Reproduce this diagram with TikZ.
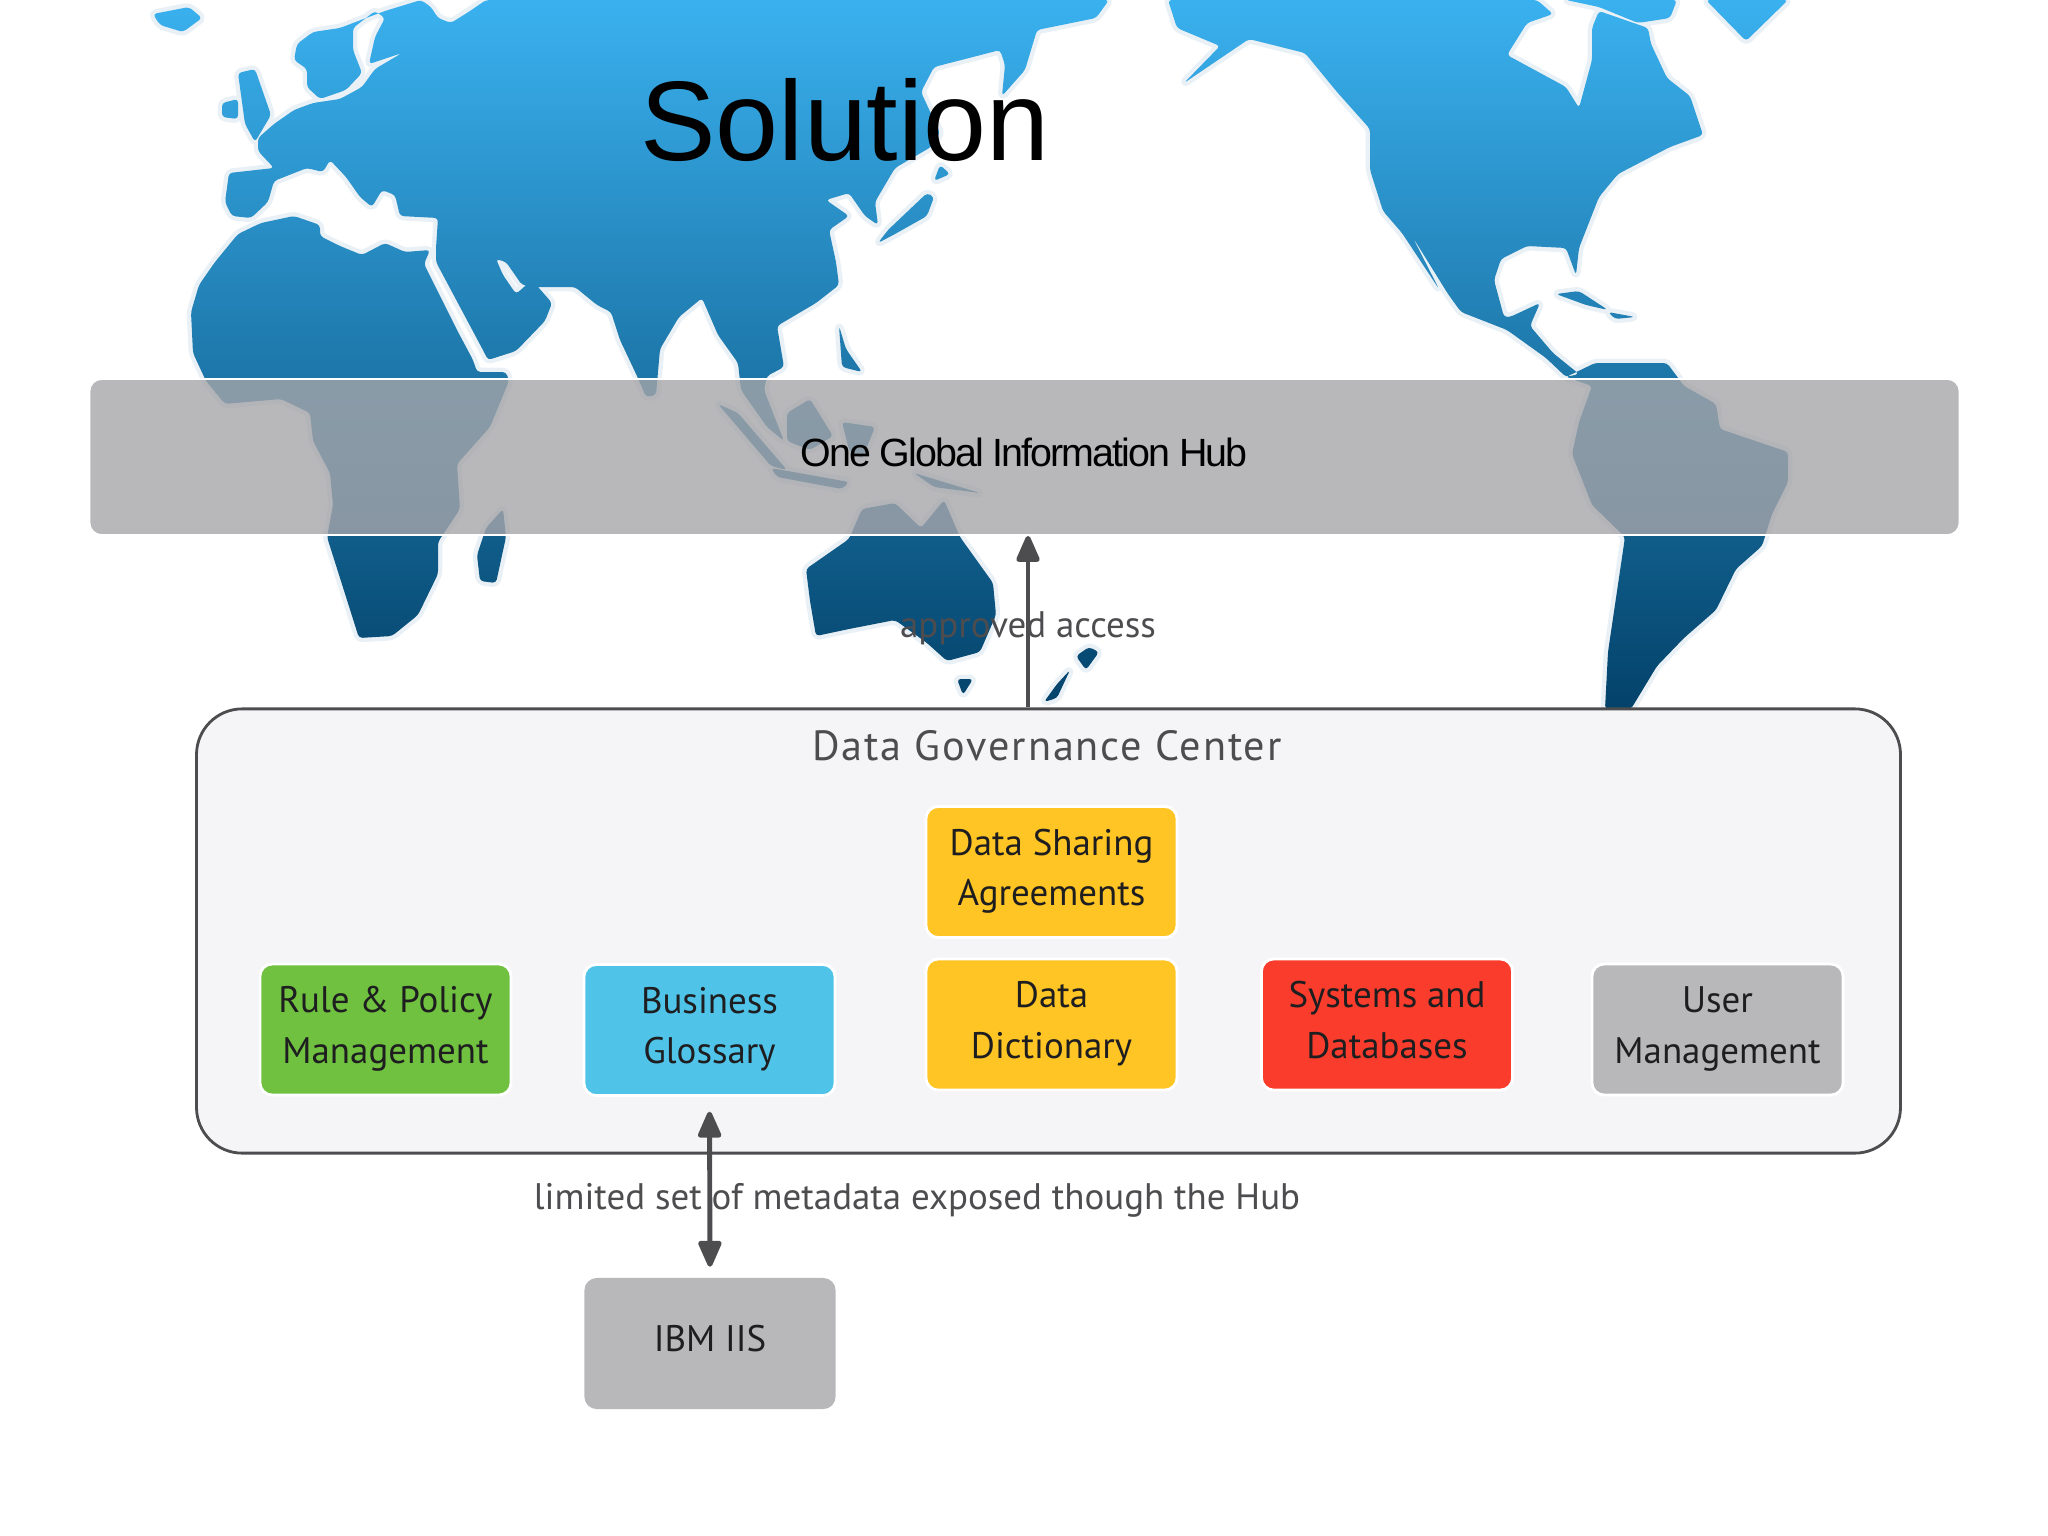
\documentclass[tikz,border=0pt]{standalone}
\usepackage{fontspec}
\setmainfont{PT Sans}
\newfontfamily\titlefont{Liberation Sans}
\newfontfamily\hubfont[LetterSpace=-5]{Liberation Sans}
\newfontfamily\centerfont[LetterSpace=4.5]{PT Sans}
\usetikzlibrary{arrows.meta,positioning}
\definecolor{mapshallow}{RGB}{58, 177, 239}
\definecolor{mapmiddle}{RGB}{34, 122, 174}
\definecolor{mapdeep}{RGB}{3, 66, 106}
\definecolor{mapglow}{RGB}{234, 241, 246}
\definecolor{hubcolor}{RGB}{166, 165, 169}
\definecolor{centercolor}{RGB}{245, 245, 248}
\definecolor{linecolor}{RGB}{77, 76, 79}
\definecolor{inkcolor}{RGB}{30, 30, 32}
\definecolor{rulecolor}{RGB}{112, 193, 64}
\definecolor{glossarycolor}{RGB}{80, 195, 233}
\definecolor{sharingcolor}{RGB}{255, 197, 36}
\definecolor{systemcolor}{RGB}{250, 60, 44}
\definecolor{usercolor}{RGB}{184, 183, 186}
% continents, in pixels of the page
\newcommand{\landmass}{
    (486,0) -- (470,11) -- (451,23) -- (438,18) -- (431,7) -- (421,0) -- (385,11) -- (366,18) -- (340,28)
    -- (313,32) -- (297,44) -- (294,60) -- (307,69) -- (307,87) -- (320,99) -- (346,90) -- (362,73)
    -- (353,50) -- (353,28) -- (375,11) -- (385,18) -- (375,37) -- (369,64) -- (402,53) -- (375,69)
    -- (362,87) -- (340,99) -- (313,103) -- (294,110) -- (274,124) -- (258,138) -- (258,151) -- (274,168)
    -- (229,173) -- (225,202) -- (232,216) -- (251,218) -- (268,202) -- (274,181) -- (307,168) -- (323,172)
    -- (330,160) -- (346,177) -- (360,197) -- (372,207) -- (382,190) -- (395,195) -- (400,216) -- (438,218)
    -- (436,248) -- (436,262) -- (484,352) -- (488,360) -- (516,351) -- (545,321) -- (552,303) -- (532,280)
    -- (516,294) -- (503,275) -- (496,259) -- (506,262) -- (522,285) -- (535,287) -- (575,287) -- (597,305)
    -- (611,312) -- (620,340) -- (637,376) -- (646,397) -- (656,395) -- (660,349) -- (679,317) -- (702,298)
    -- (718,335) -- (738,363) -- (741,390) -- (767,427) -- (784,441) -- (764,390) -- (767,376) -- (784,367)
    -- (777,326) -- (816,303) -- (839,285) -- (836,262) -- (829,230) -- (849,216) -- (826,200) -- (849,193)
    -- (865,216) -- (878,225) -- (875,202) -- (895,168) -- (931,147) -- (940,133) -- (921,92) -- (934,67)
    -- (973,57) -- (1000,50) -- (1005,65) -- (1002,96) -- (1025,70) -- (1037,30) -- (1096,18) -- (1109,0) -- cycle
    (362,255) -- (340,246) -- (320,236) -- (320,225) -- (294,216) -- (261,223) -- (238,234) -- (215,262)
    -- (199,285) -- (191,312) -- (193,353) -- (206,381) -- (225,404) -- (281,399) -- (310,413) -- (313,441)
    -- (330,473) -- (333,505) -- (327,537) -- (340,578) -- (359,638) -- (392,636) -- (418,615) -- (438,574)
    -- (438,542) -- (460,509) -- (457,464) -- (490,427) -- (509,381) -- (506,372) -- (477,372) -- (473,360)
    -- (457,330) -- (424,264) -- (430,250) -- (405,252) -- (385,243) -- cycle
    (503,509) -- (506,537) -- (496,583) -- (480,581) -- (477,555) -- (486,528) -- cycle
    (153,14) -- (189,7) -- (202,18) -- (183,32) -- (160,25) -- cycle
    (238,73) -- (255,69) -- (271,115) -- (255,142) -- (245,124) -- cycle
    (222,103) -- (238,99) -- (238,119) -- (222,117) -- cycle
    (878,243) -- (888,230) -- (927,193) -- (934,197) -- (927,216) -- (895,234) -- cycle
    (940,165) -- (950,174) -- (934,181) -- cycle
    (718,404) -- (738,413) -- (787,470) -- (771,466) -- cycle
    (810,399) -- (833,436) -- (810,450) -- (787,441) -- (787,413) -- cycle
    (771,468) -- (849,482) -- (842,489) -- (777,477) -- cycle
    (839,326) -- (846,349) -- (862,372) -- (842,367) -- cycle
    (842,422) -- (875,427) -- (862,459) -- (849,450) -- cycle
    (914,473) -- (980,493) -- (934,487) -- cycle
    (806,569) -- (849,539) -- (862,509) -- (895,503) -- (921,528) -- (944,500) -- (960,537) -- (993,583)
    -- (996,615) -- (980,652) -- (947,661) -- (927,643) -- (895,620) -- (849,629) -- (816,636) -- (810,601) -- cycle
    (957,679) -- (973,679) -- (963,695) -- cycle
    (1089,647) -- (1099,652) -- (1086,670) -- (1076,656) -- cycle
    (1070,670) -- (1057,698) -- (1044,702) -- (1057,684) -- cycle
    (1168,0) -- (1177,28) -- (1220,46) -- (1184,83) -- (1249,39) -- (1305,53) -- (1337,92) -- (1370,129)
    -- (1370,170) -- (1383,211) -- (1402,233) -- (1439,289) -- (1412,236) -- (1448,294) -- (1461,312)
    -- (1507,330) -- (1546,358) -- (1566,377) -- (1579,374) -- (1553,353) -- (1530,326) -- (1540,303)
    -- (1510,317) -- (1504,317) -- (1494,280) -- (1501,259) -- (1527,246) -- (1566,248) -- (1576,275)
    -- (1579,248) -- (1599,197) -- (1618,174) -- (1670,147) -- (1703,135) -- (1690,96) -- (1667,78)
    -- (1651,44) -- (1648,28) -- (1599,11) -- (1592,28) -- (1592,60) -- (1579,108) -- (1566,87) -- (1507,55)
    -- (1527,23) -- (1553,14) -- (1537,0) -- cycle
    (1566,0) -- (1677,0) -- (1670,18) -- (1638,23) -- (1599,7) -- cycle
    (1706,0) -- (1746,41) -- (1788,0) -- cycle
    (1556,294) -- (1579,291) -- (1608,310) -- (1586,305) -- cycle
    (1608,312) -- (1635,317) -- (1615,319) -- cycle
    (1566,377) -- (1595,363) -- (1667,363) -- (1684,386) -- (1716,404) -- (1720,429) -- (1788,452)
    -- (1788,482) -- (1772,514) -- (1762,546) -- (1736,569) -- (1716,610) -- (1684,638) -- (1657,666)
    -- (1631,709) -- (1605,709) -- (1608,652) -- (1625,537) -- (1592,505) -- (1572,454) -- (1579,422)
    -- (1592,386) -- cycle
}
\begin{document}
\begin{tikzpicture}[
    x=0.01cm, y=-0.01cm,
    block/.style={draw=white, line width=0.8pt, rounded corners=3.5pt, minimum width=2.51cm, minimum height=1.31cm, inner sep=0pt, align=center, text=inkcolor, font=\fontsize{10.5}{14.4}\selectfont, execute at begin node={\rule{0pt}{9.3pt}}, execute at end node={\rule[-2.6pt]{0pt}{2.6pt}}},
    singleblock/.style={block, execute at end node={\rule[-4.8pt]{0pt}{4.8pt}}},
    edgelabel/.style={inner sep=0pt, text=linecolor, font=\fontsize{10.5}{14.4}\selectfont},
    flow/.style={draw=linecolor, line width=1.4pt, -{Triangle[length=8.5pt,width=7pt,round]}},
    flowboth/.style={flow, {Triangle[length=8.5pt,width=7pt,round]}-{Triangle[length=8.5pt,width=7pt,round]}},
]
    \useasboundingbox (0,0) rectangle (2048,1536);

    % World map
    \path[draw=mapglow, line width=2.5pt, line join=round, rounded corners=1pt] \landmass;
    \begin{scope}
        \clip[rounded corners=1pt] \landmass;
        \shade[top color=mapshallow, middle color=mapmiddle, bottom color=mapdeep] (0,0) rectangle (2048,709);
    \end{scope}

    % Title and hub
    \node[anchor=base, font=\titlefont\fontsize{32.2}{36}\selectfont, inner sep=0pt] (solution) at (845,160) {Solution};
    \node[draw=white, line width=0.5pt, fill=hubcolor, fill opacity=0.8, rounded corners=3.5pt, minimum width=18.69cm, minimum height=1.56cm] (hub) at (1024.5,457) {};
    \node[anchor=base, font=\hubfont\fontsize{11.2}{14}\selectfont, inner sep=0pt] (hubtext) at (1024,466) {One Global Information Hub};

    % Data governance center
    \node[draw=linecolor, line width=0.8pt, fill=centercolor, rounded corners=13pt, minimum width=17.03cm, minimum height=4.44cm] (center) at (1048.5,931) {};
    \node[edgelabel, font=\centerfont\fontsize{12}{14}\selectfont] (centertext) at (1047,746) {Data Governance Center};

    % Blocks
    \node[block, fill=sharingcolor] (sharing) at (1051.5,872) {Data Sharing\\Agreements};
    \node[block, fill=sharingcolor] (dictionary) at (1051.5,1024.5) {Data\\Dictionary};
    \node[block, fill=rulecolor] (rule) at (385.5,1029.5) {Rule \& Policy\\Management};
    \node[block, fill=glossarycolor] (glossary) at (709.5,1030) {Business\\Glossary};
    \node[block, fill=systemcolor] (systems) at (1387,1024.5) {Systems and\\Databases};
    \node[block, fill=usercolor] (user) at (1717.5,1029.5) {User\\Management};
    \node[singleblock, fill=usercolor, draw=none] (iis) at (710,1343.5) {IBM IIS};

    % Connections
    \coordinate (accessline) at (1028,620);
    \draw[flow] (accessline |- center.north) -- (accessline |- hub.south) node[pos=0.46, edgelabel] (access) {approved access};
    \draw[flowboth, shorten <=4.2pt, shorten >=2.8pt] (glossary.south) -- (iis.north);
    \node[edgelabel] (metadata) at (917,1200) {limited set of metadata exposed though the Hub};
\end{tikzpicture}
\end{document}
